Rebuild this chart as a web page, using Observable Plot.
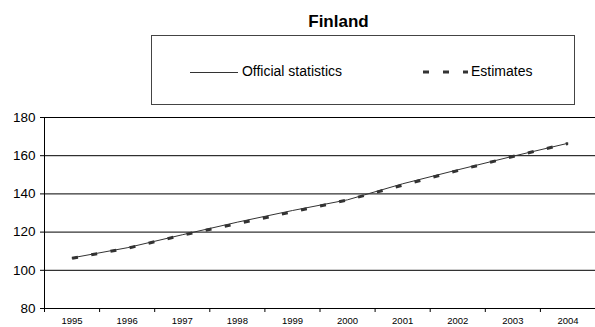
<!DOCTYPE html>
<html>
<head>
<meta charset="utf-8">
<script src="https://cdn.jsdelivr.net/npm/d3@7"></script>
<script src="https://cdn.jsdelivr.net/npm/@observablehq/plot@0.6"></script>
<style>
  html, body { margin: 0; padding: 0; background: #fff; }
  #chart { position: relative; width: 595px; height: 327px; font-family: Arial, "Liberation Sans", sans-serif; overflow: hidden; }
  #chart svg { position: absolute; left: 0; top: 0; }
  .title { position: absolute; left: 0; width: 677px; top: 12px; text-align: center; font-weight: bold; font-size: 17px; color: #000; }
  .legend { position: absolute; left: 151px; top: 35px; width: 424px; height: 70px; border: 1px solid #444; box-sizing: border-box; background: #fff; }
  .legend .item { position: absolute; top: 27px; font-size: 14px; line-height: 16px; color: #000; }
  .legend svg { position: relative !important; vertical-align: middle; }
</style>
</head>
<body>
<div id="chart"></div>
<script>
// Finland, 1995–2004
const years = [1995, 1996, 1997, 1998, 1999, 2000, 2001, 2002, 2003, 2004];
const official = [106.5, 111.8, 118.6, 125.2, 131.3, 136.9, 145.3, 152.6, 159.7, 166.5];
const estimates = [106.3, 111.5, 118.4, 124.4, 130.6, 136.8, 144.6, 152.2, 159.6, 166.4];
const yTicks = [80, 100, 120, 140, 160, 180];
const seriesNames = ["Official statistics", "Estimates"];

// year bands: labels sit at each year, tick marks on the boundaries between years
const bounds = d3.range(years[0] - 0.5, years[years.length - 1] + 1, 1);

const officialRows = years.map((year, i) => ({year, value: official[i]}));
const estimateRows = years.map((year, i) => ({year, value: estimates[i]}));

const plot = Plot.plot({
  width: 595,
  height: 327,
  marginTop: 117,
  marginBottom: 19,
  marginLeft: 44,
  marginRight: 0,
  style: {fontFamily: "Arial, 'Liberation Sans', sans-serif", background: "transparent"},
  x: {domain: [bounds[0], bounds[bounds.length - 1]]},
  y: {domain: [80, 180]},
  marks: [
    Plot.ruleY(yTicks.slice(1), {stroke: "#000", strokeWidth: 1}),
    Plot.ruleY([80], {stroke: "#000", strokeWidth: 1}),
    Plot.frame({anchor: "left", stroke: "#000"}),
    Plot.axisY({ticks: yTicks, tickSize: 4, tickPadding: 5, fontSize: 13.5, label: null, stroke: "#000"}),
    Plot.axisX({ticks: bounds, tickSize: 4, tickFormat: () => "", label: null}),
    Plot.axisX({ticks: years, tickSize: 0, tickPadding: 9, tickFormat: d => String(d), fontSize: 9.5, label: null}),
    Plot.line(estimateRows, {x: "year", y: "value", stroke: "#333", strokeWidth: 3, strokeDasharray: "6,13.5", strokeLinecap: "butt"}),
    Plot.line(officialRows, {x: "year", y: "value", stroke: "#333", strokeWidth: 1})
  ]
});

const chart = document.getElementById("chart");
chart.appendChild(plot);

const title = document.createElement("div");
title.className = "title";
title.textContent = "Finland";
chart.appendChild(title);

const legend = document.createElement("div");
legend.className = "legend";
legend.innerHTML = `
  <div class="item" style="left:38px"><svg width="48" height="8"><line x1="0" x2="48" y1="4.5" y2="4.5" stroke="#333" stroke-width="1"/></svg> ${seriesNames[0]}</div>
  <div class="item" style="left:271px"><svg width="48" height="8"><line x1="0" x2="45" y1="4" y2="4" stroke="#333" stroke-width="3" stroke-dasharray="6,14"/></svg>${seriesNames[1]}</div>`;
chart.appendChild(legend);
</script>
</body>
</html>
